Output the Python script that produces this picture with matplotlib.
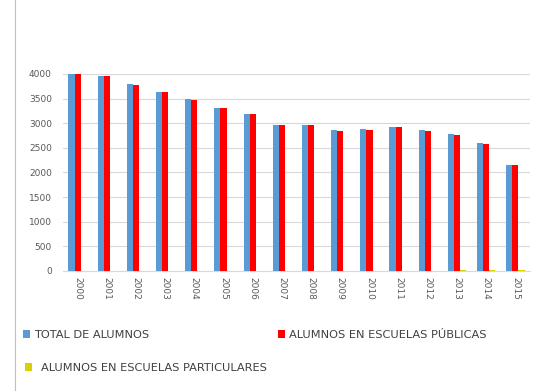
import numpy as np
import matplotlib.pyplot as plt
from matplotlib.lines import Line2D

years = ['2000', '2001', '2002', '2003', '2004', '2005', '2006', '2007',
         '2008', '2009', '2010', '2011', '2012', '2013', '2014', '2015']
total = [4000, 3965, 3785, 3630, 3485, 3310, 3190, 2970,
         2960, 2855, 2875, 2930, 2855, 2770, 2590, 2155]
publicas = [3995, 3960, 3780, 3625, 3480, 3305, 3185, 2965,
            2955, 2850, 2870, 2925, 2850, 2750, 2570, 2145]
particulares = [5, 5, 5, 5, 5, 5, 5, 5, 5, 5, 5, 5, 5, 20, 20, 10]

fig = plt.figure(figsize=(5.43, 3.91), dpi=100)
ax = fig.add_axes([0.116, 0.307, 0.86, 0.504])

x = np.arange(len(years))
w = 0.21
ax.bar(x - w, total, w, color='#5B9BD5', label='TOTAL DE ALUMNOS', zorder=3)
ax.bar(x, publicas, w, color='#FF0000', label='ALUMNOS EN ESCUELAS PÚBLICAS', zorder=3)
ax.bar(x + w, particulares, w, color='#D8D000', label='ALUMNOS EN ESCUELAS PARTICULARES', zorder=3)

ax.set_ylim(0, 4000)
ax.set_xlim(-0.5, len(years) - 0.5)
ax.set_yticks(range(0, 4001, 500))
ax.set_xticks(x)
ax.set_xticklabels(years, rotation=-90)
ax.tick_params(length=0, labelsize=6.5, colors='#595959')
ax.tick_params(axis='x', pad=4)
ax.tick_params(axis='y', pad=8)
ax.grid(axis='y', color='#D9D9D9', lw=0.8, zorder=0)
for s in ['top', 'right', 'left']:
    ax.spines[s].set_visible(False)
ax.spines['bottom'].set_color('#D9D9D9')

h, l = ax.get_legend_handles_labels()
opts = dict(loc='center left', frameon=False, fontsize=8.2, handlelength=0.6,
            handleheight=0.6, labelcolor='#404040', borderaxespad=0, borderpad=0)
fig.legend([h[0]], [l[0]], bbox_to_anchor=(0.042, 0.143), handletextpad=0.4, **opts)
fig.legend([h[1]], [l[1]], bbox_to_anchor=(0.512, 0.143), handletextpad=0.4, **opts)
fig.legend([h[2]], [l[2]], bbox_to_anchor=(0.046, 0.059), handletextpad=0.8, **opts)

fig.add_artist(Line2D([0.028, 0.028], [0, 1], transform=fig.transFigure, color='#BFBFBF', lw=0.8))

plt.savefig('out.png')
